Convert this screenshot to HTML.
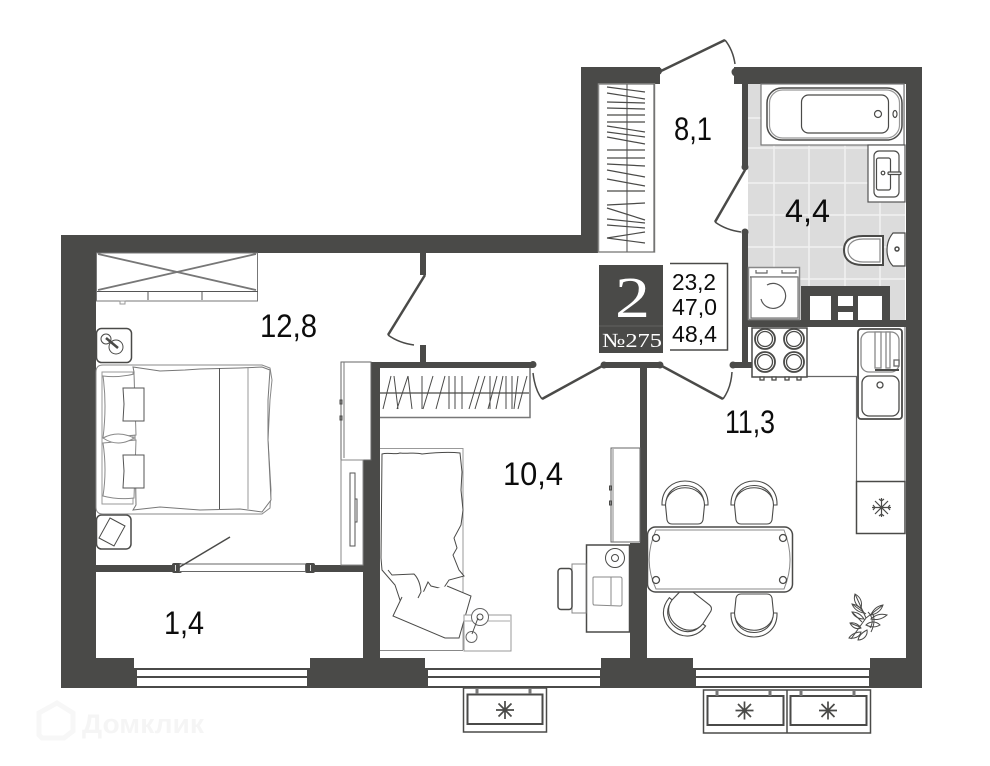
<!DOCTYPE html>
<html><head><meta charset="utf-8"><title>Plan</title>
<style>html,body{margin:0;padding:0;background:#fff}svg{display:block}text{font-family:"Liberation Sans",sans-serif;fill:#0c0c0c}.s{font-family:"Liberation Serif",serif;fill:#fff}</style></head>
<body>
<svg width="990" height="766" viewBox="0 0 990 766" xmlns="http://www.w3.org/2000/svg">
<defs>
<g id="chair" fill="#fff" stroke="#4a4a48" stroke-width="1.100">
<path d="M-23,4 C-24,-28 24,-28 23,4 L19,4 C20,-22 -20,-22 -19,4 Z"/>
<path d="M-19.500,4 C-19,-19 19,-19 19.500,4 L18,19 Q17,23 13,23 H-13 Q-17,23 -18,19 Z"/>
</g>
<g id="snow" stroke="#4a4a48" stroke-width="1.700" fill="none"><path d="M-9,0H9M0,-9V9M-6.500,-6.500L6.500,6.500M-6.500,6.500L6.500,-6.500"/></g>
</defs>
<!-- bathroom floor -->
<rect x="748" y="84" width="157" height="240" fill="#dcdcdc"/>
<g stroke="#f1f1f1" stroke-width="1.500"><path d="M774,84V286M809,145V286M845,145V286M880,145V286M748,118H762M748,148H868M748,183H868M748,215H905M748,247H905M748,279H905"/></g>

<!-- walls -->
<g fill="#4a4a48">
<path d="M61,235H581V67H660V84H598V253H96V658H134V668H136V686H308V668H310V658H363V460H371V362H380V658H425V668H427V686H601V668H601V658H630V543H640V368H647V543H647V658H693V668H695V686H870V668H870V658H906V84H734V67H922V688H61Z"/>
<rect x="748" y="320" width="158" height="7"/>
<rect x="801" y="286" width="89" height="34"/>
<rect x="742" y="84" width="6" height="83"/>
<rect x="742" y="232" width="6" height="135"/>
<rect x="732" y="362" width="20" height="6"/>
<rect x="380" y="362" width="153" height="6"/>
<rect x="602" y="362" width="59" height="6"/>
<rect x="420" y="253" width="6" height="22"/>
<rect x="420" y="345" width="6" height="17"/>
<rect x="96" y="565" width="267" height="7"/>
<circle cx="533" cy="364.500" r="3.500"/><circle cx="604" cy="365" r="3.500"/><circle cx="660" cy="365" r="3.500"/><circle cx="733" cy="365" r="3.500"/>
<circle cx="658" cy="71" r="4"/><circle cx="736" cy="72" r="4.500"/><circle cx="745" cy="167" r="3.500"/><circle cx="745" cy="232" r="3.500"/>
<rect x="172" y="563" width="10" height="10" rx="2"/><rect x="305" y="563" width="10" height="10" rx="2"/>
</g>
<g fill="#fff">
<rect x="810" y="296" width="21" height="24"/><rect x="838" y="296" width="15" height="10"/><rect x="838" y="312" width="15" height="8"/><rect x="858" y="296" width="24" height="24"/>
</g>
<rect x="179.500" y="564" width="126" height="7.500" fill="#fff" stroke="#666" stroke-width="1"/>
<path d="M175.500,565V571M310.500,565V571" stroke="#ddd" stroke-width="1"/>

<!-- bottom windows -->
<g fill="#fff" stroke="#4a4a48" stroke-width="2">
<rect x="136" y="669" width="172" height="8"/><rect x="136" y="677" width="172" height="10"/>
<rect x="427" y="669" width="174" height="8"/><rect x="427" y="677" width="174" height="10"/>
<rect x="695" y="669" width="175" height="8"/><rect x="695" y="677" width="175" height="10"/>
</g>
<!-- balcony units -->
<g fill="#fff" stroke="#4a4a48">
<rect x="463.500" y="688" width="83" height="44" stroke-width="1.500"/>
<rect x="467.500" y="694.500" width="75" height="29.500" stroke-width="2"/>
<path d="M477,688V694M530,688V694" stroke-width="3" stroke="#777"/>
<rect x="703.500" y="690" width="167" height="43" stroke-width="1.500"/>
<path d="M787,690V733" stroke-width="1.500"/>
<rect x="707.500" y="696" width="76" height="29" stroke-width="2"/>
<rect x="790.500" y="696" width="76" height="29" stroke-width="2"/>
<path d="M717,690V696M770,690V696M801,690V696M854,690V696" stroke-width="3" stroke="#777"/>
</g>
<use href="#snow" x="505" y="710"/><use href="#snow" x="744.500" y="710.500"/><use href="#snow" x="828" y="710.500"/>

<!-- doors -->
<g fill="none" stroke="#4a4a48" stroke-width="2.500">
<path d="M661,71L725,40"/><path d="M604,365L542,399"/><path d="M660,365L723,399"/><path d="M745,170L715,222"/><path d="M425,275L388,335"/><path d="M178,568L230,537" stroke-width="1.500"/>
</g>
<g fill="none" stroke="#4a4a48" stroke-width="1.500">
<path d="M725,40Q733,50 735,64"/><path d="M542,399Q535,390 533,373"/><path d="M723,399Q731,388 732,372"/><path d="M715,222Q726,230 741,232"/><path d="M388,335Q399,343 414,345"/>
</g>

<!-- hall wardrobe -->
<g fill="#fff" stroke="#8a8a88" stroke-width="1.500"><rect x="598.500" y="84" width="56" height="168"/></g>
<g stroke="#4a4a48" stroke-width="1.200" fill="none">
<path d="M627,84V252M654,84V252" stroke="#666"/>
<path d="M607,87L645,92M607,93L645,99M607,102L645,103M607,108L645,109M607,115H645M607,122H645M607,126L645,132M607,132L645,137M607,137L645,144M607,150H645M607,158H645M607,164L645,166M607,170L645,177M607,179L645,186M607,191H645M607,205L645,203M607,208L645,220M607,219L645,223M607,225L645,228M607,238L645,232M607,238L645,243"/>
</g>

<!-- plaque -->
<rect x="599" y="265" width="64" height="88" fill="#4a4a48"/>
<path d="M599,326H663" stroke="#626260" stroke-width="1"/>
<text class="s" x="615" y="317" font-size="58" textLength="35" lengthAdjust="spacingAndGlyphs">2</text>
<text class="s" x="602" y="347" font-size="20" textLength="60" lengthAdjust="spacingAndGlyphs">№275</text>
<path d="M670,263.500H727.500V350H670" fill="none" stroke="#4a4a48" stroke-width="1.500"/>
<text x="672" y="290" font-size="23" textLength="44" lengthAdjust="spacingAndGlyphs">23,2</text>
<text x="672" y="315" font-size="23" textLength="45" lengthAdjust="spacingAndGlyphs">47,0</text>
<text x="672" y="342" font-size="23" textLength="45" lengthAdjust="spacingAndGlyphs">48,4</text>

<!-- bathroom -->
<g fill="#fff" stroke="#4a4a48" stroke-width="1.200">
<rect x="761" y="84" width="143" height="61" stroke="#777"/>
<rect x="767" y="88" width="135" height="52" rx="15" stroke-width="1.500"/>
<rect x="769.500" y="90" width="130" height="48" rx="13" stroke="#999"/>
<rect x="801.500" y="95" width="87" height="38" rx="7"/>
<circle cx="878" cy="114" r="3.500" fill="none"/><ellipse cx="895" cy="114" rx="2" ry="3.500" fill="none"/>
<rect x="868" y="145" width="37" height="57" stroke="#555"/>
<rect x="874" y="151" width="25" height="46" rx="5"/>
<rect x="876.500" y="158" width="14" height="32" rx="2"/>
<circle cx="883" cy="173" r="1.800"/><rect x="888" y="172" width="13" height="2.500" rx="1"/>
<!-- toilet -->
<path d="M883,236V265H863C850,265 844,259 844,250C844,241 850,236 863,236Z" stroke-width="2"/>
<path d="M880,239V262H863C853,262 848,256 848,250C848,244 853,239 863,239Z" stroke="#888"/>
<path d="M905,233H893Q887,240 887,250Q887,260 893,266H905Z"/>
<circle cx="897" cy="249" r="2" stroke-width="1.500"/>
<!-- washer -->
<rect x="748.500" y="267.500" width="51" height="52" stroke="#888" stroke-width="1.500"/>
<path d="M750,277H798" />
<rect x="751" y="277" width="47" height="41" stroke="#777"/>
<path d="M756,270V273H767V270M782,270V273H796V270" stroke="#666" fill="none"/>
<path d="M767,285A12.500,12.500 0 1 1 761,299" fill="none" stroke="#555"/>
</g>

<!-- kitchen -->
<path d="M807,376.500H856.500V481" fill="none" stroke="#666" stroke-width="1.200"/>
<path d="M905,327V481" stroke="#666" stroke-width="1"/>
<g fill="#fff" stroke="#4a4a48" stroke-width="1.300">
<rect x="752" y="328" width="55" height="49" stroke-width="1.500"/>
<rect x="760" y="377" width="4" height="3" /><rect x="772" y="377" width="4" height="3"/><rect x="785" y="377" width="4" height="3"/><rect x="797" y="377" width="4" height="3"/>
<g fill="none"><circle cx="765" cy="339" r="10" stroke-width="1.800"/><circle cx="765" cy="339" r="7.500"/><circle cx="794" cy="339" r="10" stroke-width="1.800"/><circle cx="794" cy="339" r="7.500"/><circle cx="765" cy="362" r="10" stroke-width="1.800"/><circle cx="765" cy="362" r="7.500"/><circle cx="794" cy="362" r="10" stroke-width="1.800"/><circle cx="794" cy="362" r="7.500"/></g>
<rect x="858" y="329" width="44" height="90" rx="3" stroke-width="1.800"/>
<rect x="861" y="332" width="38" height="40" rx="8" stroke="#888"/>
<rect x="875" y="332" width="6" height="36" stroke="#888"/><rect x="886" y="332" width="4" height="36" stroke="#888"/>
<path d="M875,370H899" stroke-width="2"/>
<rect x="894" y="360" width="5" height="6" stroke="#666"/>
<rect x="862" y="376" width="37" height="40" rx="7"/>
<circle cx="880" cy="385" r="3"/>
<rect x="856.500" y="481.500" width="48.500" height="52" stroke-width="1.500"/>
</g>
<g stroke="#4a4a48" stroke-width="1.200" fill="none"><path d="M872,507.500H891M881.500,498V517M875,501L888,514M875,514L888,501M873,505L875,507.500L873,510M890,505L888,507.500L890,510M879,499L881.500,501L884,499M879,516L881.500,514L884,516"/></g>

<!-- table and chairs -->
<use href="#chair" x="685" y="501"/>
<use href="#chair" x="754" y="501"/>
<use href="#chair" transform="translate(754,617) rotate(180)"/>
<use href="#chair" transform="translate(685,615) rotate(218)"/>
<g fill="#fff" stroke="#4a4a48" stroke-width="1.300">
<rect x="647.500" y="527" width="145" height="65" rx="8" stroke-width="1.500"/>
<path d="M656,530H784C792,550 792,570 784,589H656C647,570 647,550 656,530Z" stroke="#888" stroke-width="1"/>
<circle cx="656" cy="538" r="3.500"/><circle cx="783" cy="538" r="3.500"/><circle cx="656" cy="580" r="3.500"/><circle cx="783" cy="580" r="3.500"/>
</g>
<!-- plant -->
<g fill="none" stroke="#4a4a48" stroke-width="1">
<path d="M851,639L866,618L855,594M866,618L883,605M860,627L850,623M862,622L852,612M866,614L852,604"/>
<path d="M855,594C862,598 862,604 861,608C856,606 853,600 855,594Z"/>
<path d="M852,604C858,605 862,609 864,613C858,612 854,609 852,604Z"/>
<path d="M852,612C858,612 862,616 864,619C858,619 854,616 852,612Z"/>
<path d="M883,605C881,611 876,614 871,615C873,610 877,606 883,605Z"/>
<path d="M887,615C881,620 876,620 871,619C875,615 881,613 887,615Z"/>
<path d="M880,625C875,628 870,627 866,625C870,621 876,621 880,625Z"/>
<path d="M850,623C855,622 859,625 861,628C856,630 852,627 850,623Z"/>
<path d="M849,638C852,633 858,632 861,632C860,637 854,639 849,638Z"/>
<path d="M858,640C859,635 863,632 867,630C868,635 864,640 858,640Z"/>
<path d="M868,612C872,616 874,622 870,628M872,612C875,618 875,624 871,632"/>
</g>

<!-- bedroom -->
<g fill="#fff" stroke="#4a4a48" stroke-width="1">
<rect x="96.500" y="253" width="161" height="48" stroke="#777"/>
<path d="M97,291.500H258M148,292V300M202,292V300" stroke="#555"/>
<path d="M98,290L256,254M98,254L256,290" stroke="#777" stroke-width="1.800"/>
<rect x="120" y="301" width="5" height="3" stroke="#999"/>
<rect x="96.500" y="328.500" width="35" height="34" rx="5" stroke-width="1.500"/>
<circle cx="106" cy="339" r="5"/><circle cx="116" cy="347" r="7"/>
<path d="M106,338L118,348" stroke-width="2.500"/>
<rect x="96.500" y="515" width="34.500" height="34" rx="5" stroke-width="1.500"/>
<path d="M110,518L125,526L114,546L99,538Z"/>
<path d="M96,372Q96,365 103,365H262L270,368L272,380L270,400L268,440L271,490L270,508L262,514H103Q96,514 96,507Z" stroke="#888"/>
<path d="M134,372L133,367L160,371L185,370L200,369L240,368L262,367L270,370L268,400L268,440L271,500L262,512L240,509L200,510L160,507L133,510L136,505L134,372Z" stroke="#777" fill="#fff"/>
<path d="M219.500,368V509" stroke="#555"/><path d="M248,368V509" stroke="#999"/>
<path d="M102,372H133V504H102Z" stroke="#999" fill="#fff"/>
<path d="M103,376Q118,378 134,374L136,435L103,438Q107,405 103,376ZM103,443L136,440L134,498Q118,500 103,496Q107,470 103,443Z" stroke="#888"/>
<path d="M103,438Q118,430 134,438Q118,448 103,438Z" stroke="#888"/>
<path d="M123,388H144V421H123L124,404Z" stroke="#555"/>
<path d="M123,455H144V488H123L124,471Z" stroke="#555"/>
<rect x="341" y="362" width="30" height="98" stroke="#666"/>
<path d="M344,362V458" stroke="#777"/>
<rect x="340" y="400" width="2" height="4" fill="#888"/><rect x="340" y="416" width="2" height="4" fill="#888"/>
<rect x="341" y="460" width="22" height="105" stroke="#888"/>
<rect x="350" y="473" width="5" height="73" stroke="#555"/>
<rect x="355" y="499" width="2" height="23" stroke="#555"/>
</g>

<!-- kids room -->
<g fill="#fff" stroke="#4a4a48" stroke-width="1">
<path d="M380,417.500H530V368" stroke="#777" stroke-width="1.500" fill="none"/>
<path d="M380,393H529" stroke-width="1.200" fill="none"/>
<path d="M391,376L383,409M394,376L398,409M408,376L397,409M408,376L412,409M422,376V409M433,376L423,409M445,376L436,409M449,376V409M455,376V409M462,376V409M479,376L469,409M485,376L475,409M490,376V409M497,376L488,409M503,376L496,409M506,376V409M512,376V409M518,376L514,409M527,376L518,409" fill="none"/>
<path d="M380,448.500H463V650" stroke="#999" fill="none"/>
<path d="M380,650.500H463" stroke="#888" fill="none"/>
<path d="M382,454C388,452 395,455 400,453C408,454 415,452 422,454C440,452 452,452 460,453L462,472L461,490L463,510L461,525L454,538L457,548L453,555L459,570L464,576L449,580L443,589L431,586L428,582L422,595L415,600L403,606L400,600L395,585L382,570L381,558Z"/>
<path d="M447,586L471,596L459,638H445L393,616L402,597"/>
<path d="M388,570L392,575L414,574Q420,580 421,592L418,598" fill="none"/>
<rect x="464" y="615" width="47" height="36" stroke="#999"/>
<path d="M464,621H510" stroke="#aaa" fill="none"/>
<circle cx="480" cy="617" r="8.500" stroke="#666"/><circle cx="480" cy="617" r="3"/>
<circle cx="471.500" cy="637" r="5.500" stroke="#666"/>
<path d="M478,618L472,634" fill="none"/>
<rect x="611" y="448" width="29" height="94" stroke="#666"/>
<path d="M613,449V542" stroke="#888" fill="none"/>
<rect x="609.500" y="486" width="2" height="4" fill="#888"/><rect x="609.500" y="501" width="2" height="4" fill="#888"/>
<rect x="586.500" y="545" width="43" height="87" stroke-width="1.500"/>
<circle cx="615" cy="558" r="9.500"/><circle cx="615" cy="558" r="3.500"/>
<rect x="572" y="564" width="14" height="49" stroke="#888"/>
<rect x="558" y="568.500" width="14" height="41" rx="3" stroke-width="1.500"/>
<path d="M594,577H620Q622,577 622,579V604Q622,606 620,606L594,605Q593,605 593,603V578Q593,577 594,577ZM611,577V605" stroke="#888"/>
</g>

<!-- labels -->
<g font-size="32">
<text x="260" y="337" textLength="57" lengthAdjust="spacingAndGlyphs">12,8</text>
<text x="674" y="140" textLength="38" lengthAdjust="spacingAndGlyphs">8,1</text>
<text x="785" y="222" textLength="45" lengthAdjust="spacingAndGlyphs">4,4</text>
<text x="164" y="634" textLength="40" lengthAdjust="spacingAndGlyphs">1,4</text>
<text x="503" y="485" textLength="60" lengthAdjust="spacingAndGlyphs">10,4</text>
<text x="725" y="433" textLength="50" lengthAdjust="spacingAndGlyphs">11,3</text>
</g>

<!-- watermark -->
<path d="M57,703L73,713V731L64,738H42L39,735V713Z" fill="none" stroke="#f7f7f7" stroke-width="5"/>
<text x="82" y="733" font-size="27" font-weight="bold" textLength="122" lengthAdjust="spacingAndGlyphs" style="fill:#f5f5f5">Домклик</text>
</svg>
</body></html>
